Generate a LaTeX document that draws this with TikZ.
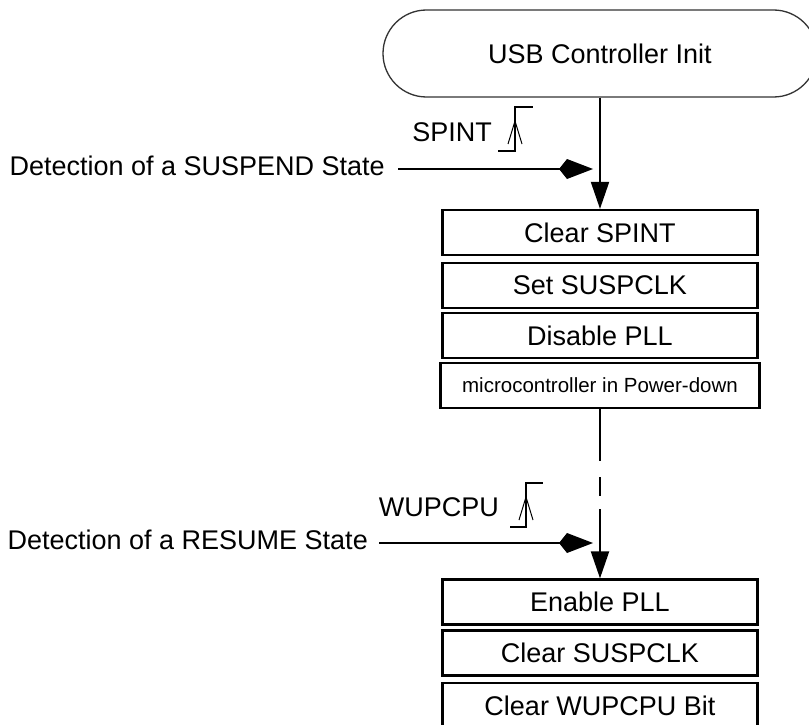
\documentclass[tikz,border=0pt]{standalone}
\usepackage{fontspec}
\setmainfont{Liberation Sans}
\usetikzlibrary{arrows.meta,shapes.misc}
\begin{document}
\begin{tikzpicture}[x=1pt,y=-1pt,
  bigfont/.style={font=\fontsize{27}{30}\selectfont},
  stepbox/.style={draw, line width=2.2pt, minimum width=315pt, minimum height=45pt, inner sep=0pt, bigfont},
  lbl/.style={inner sep=0pt, bigfont},
  flow/.style={line width=2pt, -{Triangle[length=27pt,width=18pt]}},
  sig/.style={line width=2pt, -{Kite[length=34pt,width=20pt,inset=8pt]}},
  pulse/.style={line width=1.6pt},
  caret/.style={line width=1pt},
]
\clip (0,0) rectangle (809,725);
\fill[white] (0,0) rectangle (809,725);

% terminator
\node[draw=black!80, line width=1.3pt, rounded rectangle, minimum width=434pt, minimum height=87pt, inner sep=0pt, bigfont] (init) at (600,53.5) {USB Controller Init};

% suspend steps
\node[stepbox] (clrspint) at (600,232.5) {Clear SPINT};
\node[stepbox] (setclk) at (600,285.5) {Set SUSPCLK};
\node[stepbox] (displl) at (600,335.5) {Disable PLL};
\node[stepbox, minimum width=319pt, font=\fontsize{20.5}{24}\selectfont] (micro) at (600,385.5) {microcontroller in Power-down};

% resume steps
\node[stepbox] (enpll) at (600,602) {Enable PLL};
\node[stepbox] (clrclk) at (600,653) {Clear SUSPCLK};
\node[stepbox] (clrwup) at (600,705.5) {Clear WUPCPU Bit};

% main flow
\draw[flow] (init.south) -- (clrspint.north);
\draw[flow, dash pattern=on 52pt off 16pt on 19pt off 13pt on 300pt] (micro.south) -- (enpll.north);

% suspend event
\node[lbl, anchor=east] (susp) at (385,166) {Detection of a SUSPEND State};
\node[lbl, anchor=east] (spint) at (492,132) {SPINT};
\coordinate (s1) at (398,169);
\coordinate (s2) at (593,169);
\draw[sig] (s1) -- (s2);
\draw[pulse] (498,151) -- (515,151) -- (515,107) -- (533,107);
\draw[caret] (508,144) -- (515,121) -- (522,144);

% resume event
\node[lbl, anchor=east] (resu) at (368,540) {Detection of a RESUME State};
\node[lbl, anchor=east] (wup) at (499,507) {WUPCPU};
\coordinate (r1) at (379,543);
\coordinate (r2) at (593,543);
\draw[sig] (r1) -- (r2);
\draw[pulse] (510,527) -- (526,527) -- (526,483) -- (543,483);
\draw[caret] (519,520) -- (526,497) -- (533,520);
\end{tikzpicture}
\end{document}
